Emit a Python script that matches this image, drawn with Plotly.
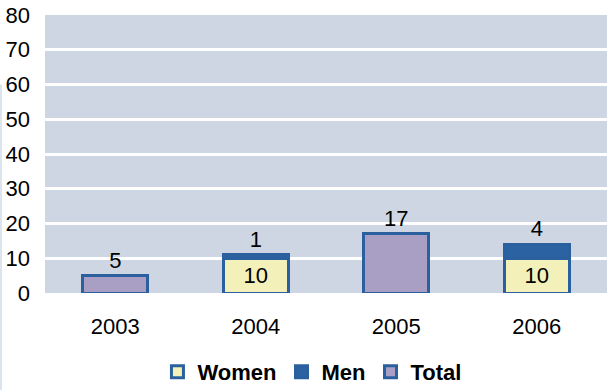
import plotly.graph_objects as go

years = ["2003", "2004", "2005", "2006"]
women = [None, 10, None, 10]
men = [None, 1, None, 4]
total = [5, None, 17, None]

edge = "#2A609E"
fnt = "Liberation Sans, Arial, sans-serif"
fig = go.Figure()
fig.add_trace(go.Bar(x=years, y=women, name="Women", marker=dict(color="#F4F0BA", line=dict(color=edge, width=3)),
                     text=women, textposition="inside", insidetextanchor="middle",
                     textfont=dict(size=22, color="black")))
fig.add_trace(go.Bar(x=years, y=men, name="Men", marker=dict(color="#2A62A2", line=dict(color=edge, width=3)),
                     text=men, textposition="outside", textfont=dict(size=22, color="black")))
fig.add_trace(go.Bar(x=years, y=total, name="Total", marker=dict(color="#A99FC5", line=dict(color=edge, width=3)),
                     text=total, textposition="outside", textfont=dict(size=22, color="black")))

fig.update_layout(
    width=612, height=390,
    barmode="stack", bargap=0.54,
    paper_bgcolor="white", plot_bgcolor="#CDD6E2",
    margin=dict(l=45, r=5, t=15, b=97),
    font=dict(family=fnt, size=22, color="black"),
    showlegend=True,
    legend=dict(orientation="h", x=0.475, xanchor="center", yref="container", y=0.046, yanchor="middle",
                font=dict(size=22, family=fnt, weight="bold"),
                traceorder="normal", itemwidth=30),
    uniformtext=dict(minsize=22, mode="show"),
    shapes=[dict(type="rect", xref="paper", yref="paper", x0=-45/562, x1=-43/562, y0=-97/278, y1=0.75,
                 fillcolor="#DCE4EE", line=dict(width=0), layer="below")],
)
fig.update_yaxes(range=[0, 80], dtick=10, showgrid=True, gridcolor="white", gridwidth=3,
                 zeroline=False, tickfont=dict(size=22), ticks="", showline=False,
                 automargin=False, ticklabelstandoff=14)
fig.update_xaxes(showgrid=False, tickfont=dict(size=22), ticklabelstandoff=18, showline=False,
                 automargin=False)

fig.write_html("out.html", config={"displayModeBar": False},
               post_script="document.body.style.margin='0px';")
